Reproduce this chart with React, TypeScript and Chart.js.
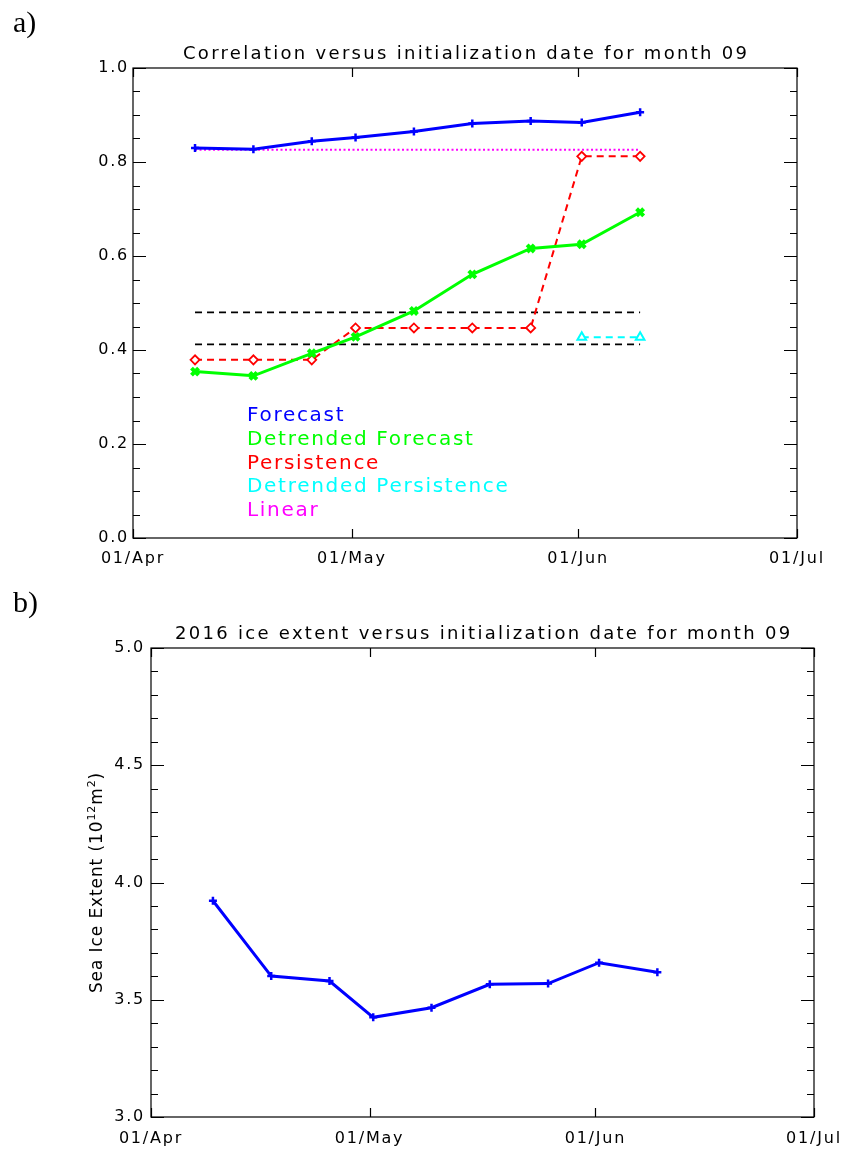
import React, { useEffect, useRef } from 'react';
import { Chart, registerables } from 'chart.js';

Chart.register(...registerables);

// ---- data ----
const initDays = [8.5, 16.5, 24.5, 30.5, 38.5, 46.5, 54.5, 61.5, 69.5];
const forecast = [0.830, 0.827, 0.844, 0.852, 0.865, 0.882, 0.887, 0.884, 0.906];
const detrendedForecast = [0.354, 0.345, 0.393, 0.428, 0.483, 0.561, 0.616, 0.625, 0.693];
const persistence = [0.379, 0.379, 0.379, 0.447, 0.447, 0.447, 0.447, 0.812, 0.812];
const detrendedPersistenceDays = [61.5, 69.5];
const detrendedPersistence = [0.427, 0.427];
const linearDays = [8.5, 69.5];
const linear = [0.826, 0.826];
const thresholdUpper = [0.480, 0.480];
const thresholdLower = [0.412, 0.412];
const iceExtent2016 = [3.922, 3.601, 3.580, 3.425, 3.466, 3.566, 3.569, 3.658, 3.617];

const xTickDays = [0, 30, 61, 91];
const xTickLabels = ['01/Apr', '01/May', '01/Jun', '01/Jul'];
const corrTicks = [0, 0.2, 0.4, 0.6, 0.8, 1.0];
const extentTicks = [3.0, 3.5, 4.0, 4.5, 5.0];

const FONT = 'DejaVu Sans';
const TICK_SPACING = '1.8px';

const pts = (xs: number[], ys: number[]) => xs.map((x, i) => ({ x, y: ys[i] }));

const spacingPlugin = {
  id: 'idlSpacing',
  beforeLayout(chart: any) { chart.ctx.letterSpacing = TICK_SPACING; },
  beforeDraw(chart: any) { chart.ctx.letterSpacing = TICK_SPACING; },
};

function makeFramePlugin(minorStep: number) {
  return {
    id: 'idlFrame',
    afterDatasetsDraw(chart: any) {
      const { ctx, chartArea } = chart;
      const { left, right, top, bottom } = chartArea;
      const ys = chart.scales.y;
      const xs = chart.scales.x;
      ctx.save();
      ctx.letterSpacing = '0px';
      ctx.strokeStyle = '#000';
      ctx.lineWidth = 1.2;
      ctx.setLineDash([]);
      ctx.beginPath();
      const majors = ys.ticks.map((t: any) => t.value);
      const n = Math.round((ys.max - ys.min) / minorStep);
      for (let i = 0; i <= n; i++) {
        const v = ys.min + i * minorStep;
        const isMajor = majors.some((m: number) => Math.abs(m - v) < minorStep / 10);
        const len = isMajor ? 13 : 7;
        const py = Math.round(ys.getPixelForValue(v)) + 0.5;
        ctx.moveTo(left, py); ctx.lineTo(left + len, py);
        ctx.moveTo(right, py); ctx.lineTo(right - len, py);
      }
      xs.ticks.forEach((t: any) => {
        const px = Math.round(xs.getPixelForValue(t.value)) + 0.5;
        ctx.moveTo(px, bottom); ctx.lineTo(px, bottom - 9);
        ctx.moveTo(px, top); ctx.lineTo(px, top + 9);
      });
      ctx.stroke();
      ctx.strokeRect(left, top, right - left, bottom - top);
      ctx.restore();
    },
  };
}

type TextCfg = {
  panel: string;
  panelBaseline: number;
  title: string;
  legend?: boolean;
  yTitle?: { text: string; sup?: boolean }[];
};

function makeTextPlugin(cfg: TextCfg) {
  return {
    id: 'idlText',
    afterDraw(chart: any) {
      const ctx = chart.ctx;
      const ca = chart.chartArea;
      ctx.save();
      ctx.fillStyle = '#000';
      ctx.textAlign = 'left';
      ctx.textBaseline = 'alphabetic';
      ctx.letterSpacing = '0px';
      ctx.font = '30px "Liberation Serif"';
      ctx.fillText(cfg.panel, 13, cfg.panelBaseline);

      ctx.font = `18px "${FONT}"`;
      ctx.letterSpacing = '2.3px';
      ctx.textAlign = 'center';
      ctx.fillText(cfg.title, (ca.left + ca.right) / 2 + 1.15, ca.top - 9);

      if (cfg.legend) {
        ctx.font = `20px "${FONT}"`;
        ctx.letterSpacing = '1.7px';
        ctx.textAlign = 'left';
        chart.data.datasets
          .filter((d: any) => d.label)
          .forEach((d: any, i: number) => {
            ctx.fillStyle = d.borderColor;
            ctx.fillText(d.label, ca.left + 114, ca.top + 353 + i * 23.75);
          });
      }

      if (cfg.yTitle) {
        const normal = `17px "${FONT}"`;
        const small = `11px "${FONT}"`;
        ctx.letterSpacing = '0.9px';
        ctx.fillStyle = '#000';
        let total = 0;
        const widths = cfg.yTitle.map((s) => {
          ctx.font = s.sup ? small : normal;
          const w = ctx.measureText(s.text).width;
          total += w;
          return w;
        });
        ctx.translate(ca.left - 55.5 + 6.2, (ca.top + ca.bottom) / 2);
        ctx.rotate(-Math.PI / 2);
        let x = -total / 2;
        ctx.textAlign = 'left';
        cfg.yTitle.forEach((s, i) => {
          ctx.font = s.sup ? small : normal;
          ctx.fillText(s.text, x, s.sup ? -7 : 0);
          x += widths[i];
        });
      }
      ctx.restore();
    },
  };
}

function baseScales(opts: {
  yMin: number; yMax: number; yTicks: number[]; yWidth: number; yPad: number;
  xHeight: number; xPad: number;
}) {
  return {
    x: {
      type: 'linear',
      min: 0,
      max: 91,
      afterBuildTicks: (s: any) => { s.ticks = xTickDays.map((v) => ({ value: v })); },
      ticks: {
        callback: (_v: any, i: number) => xTickLabels[i],
        padding: opts.xPad,
        color: '#000',
        maxRotation: 0,
        autoSkip: false,
        font: { family: FONT, size: 16 },
      },
      grid: { display: false, drawTicks: false },
      border: { display: false },
      afterFit: (s: any) => { s.height = opts.xHeight; s.paddingLeft = 0; s.paddingRight = 0; },
    },
    y: {
      type: 'linear',
      min: opts.yMin,
      max: opts.yMax,
      afterBuildTicks: (s: any) => { s.ticks = opts.yTicks.map((v) => ({ value: v })); },
      ticks: {
        callback: (v: any) => Number(v).toFixed(1),
        padding: opts.yPad,
        color: '#000',
        font: { family: FONT, size: 16 },
      },
      grid: { display: false, drawTicks: false },
      border: { display: false },
      afterFit: (s: any) => { s.width = opts.yWidth; s.paddingTop = 0; s.paddingBottom = 0; },
    },
  };
}

export default function App() {
  const refA = useRef<HTMLCanvasElement>(null);
  const refB = useRef<HTMLCanvasElement>(null);

  useEffect(() => {
    Chart.defaults.font.family = FONT;
    const common = {
      responsive: false,
      maintainAspectRatio: false,
      animation: false,
      events: [],
      plugins: { legend: { display: false }, tooltip: { enabled: false }, title: { display: false } },
    };

    const chartA = new Chart(refA.current!, {
      type: 'line',
      data: {
        datasets: [
          {
            label: 'Forecast',
            data: pts(initDays, forecast),
            borderColor: '#0000ff',
            backgroundColor: '#0000ff',
            borderWidth: 3,
            pointStyle: 'cross',
            pointRadius: 4,
            pointBorderWidth: 2.5,
          },
          {
            label: 'Detrended Forecast',
            data: pts(initDays, detrendedForecast),
            borderColor: '#00ff00',
            backgroundColor: '#00ff00',
            borderWidth: 3,
            pointStyle: 'crossRot',
            pointRadius: 5,
            pointBorderWidth: 4,
          },
          {
            label: 'Persistence',
            data: pts(initDays, persistence),
            borderColor: '#ff0000',
            backgroundColor: '#ffffff',
            borderWidth: 2,
            borderDash: [7, 5],
            pointStyle: 'rectRot',
            pointRadius: 4.5,
            pointBorderWidth: 1.8,
          },
          {
            label: 'Detrended Persistence',
            data: pts(detrendedPersistenceDays, detrendedPersistence),
            borderColor: '#00ffff',
            backgroundColor: '#ffffff',
            borderWidth: 2,
            borderDash: [7, 5],
            pointStyle: 'triangle',
            pointRadius: 5,
            pointBorderWidth: 2,
          },
          {
            label: 'Linear',
            data: pts(linearDays, linear),
            borderColor: '#ff00ff',
            borderWidth: 2,
            borderDash: [2, 2.5],
            pointRadius: 0,
          },
          {
            label: '',
            data: pts(linearDays, thresholdUpper),
            borderColor: '#000000',
            borderWidth: 1.6,
            borderDash: [7, 5],
            pointRadius: 0,
          },
          {
            label: '',
            data: pts(linearDays, thresholdLower),
            borderColor: '#000000',
            borderWidth: 1.6,
            borderDash: [7, 5],
            pointRadius: 0,
          },
        ],
      },
      options: {
        ...common,
        layout: { padding: { left: 0, top: 68, right: 50, bottom: 0 } },
        scales: baseScales({ yMin: 0, yMax: 1, yTicks: corrTicks, yWidth: 133, yPad: 4, xHeight: 37, xPad: 11 }),
      } as any,
      plugins: [
        spacingPlugin,
        makeFramePlugin(0.05),
        makeTextPlugin({
          panel: 'a)',
          panelBaseline: 32,
          title: 'Correlation versus initialization date for month 09',
          legend: true,
        }),
      ],
    } as any);

    const chartB = new Chart(refB.current!, {
      type: 'line',
      data: {
        datasets: [
          {
            label: '2016',
            data: pts(initDays, iceExtent2016),
            borderColor: '#0000ff',
            backgroundColor: '#0000ff',
            borderWidth: 3,
            pointStyle: 'cross',
            pointRadius: 4,
            pointBorderWidth: 2.5,
          },
        ],
      },
      options: {
        ...common,
        layout: { padding: { left: 0, top: 73, right: 33, bottom: 0 } },
        scales: baseScales({ yMin: 3, yMax: 5, yTicks: extentTicks, yWidth: 151, yPad: 6, xHeight: 33, xPad: 12 }),
      } as any,
      plugins: [
        spacingPlugin,
        makeFramePlugin(0.1),
        makeTextPlugin({
          panel: 'b)',
          panelBaseline: 37,
          title: '2016 ice extent versus initialization date for month 09',
          yTitle: [
            { text: 'Sea Ice Extent (10' },
            { text: '12', sup: true },
            { text: 'm' },
            { text: '2', sup: true },
            { text: ')' },
          ],
        }),
      ],
    } as any);

    return () => {
      chartA.destroy();
      chartB.destroy();
    };
  }, []);

  return (
    <div style={{ position: 'absolute', left: 0, top: 0, width: 847, height: 1150, background: '#fff' }}>
      <canvas ref={refA} width={847} height={575} style={{ display: 'block', width: 847, height: 575 }} />
      <canvas ref={refB} width={847} height={575} style={{ display: 'block', width: 847, height: 575 }} />
    </div>
  );
}
